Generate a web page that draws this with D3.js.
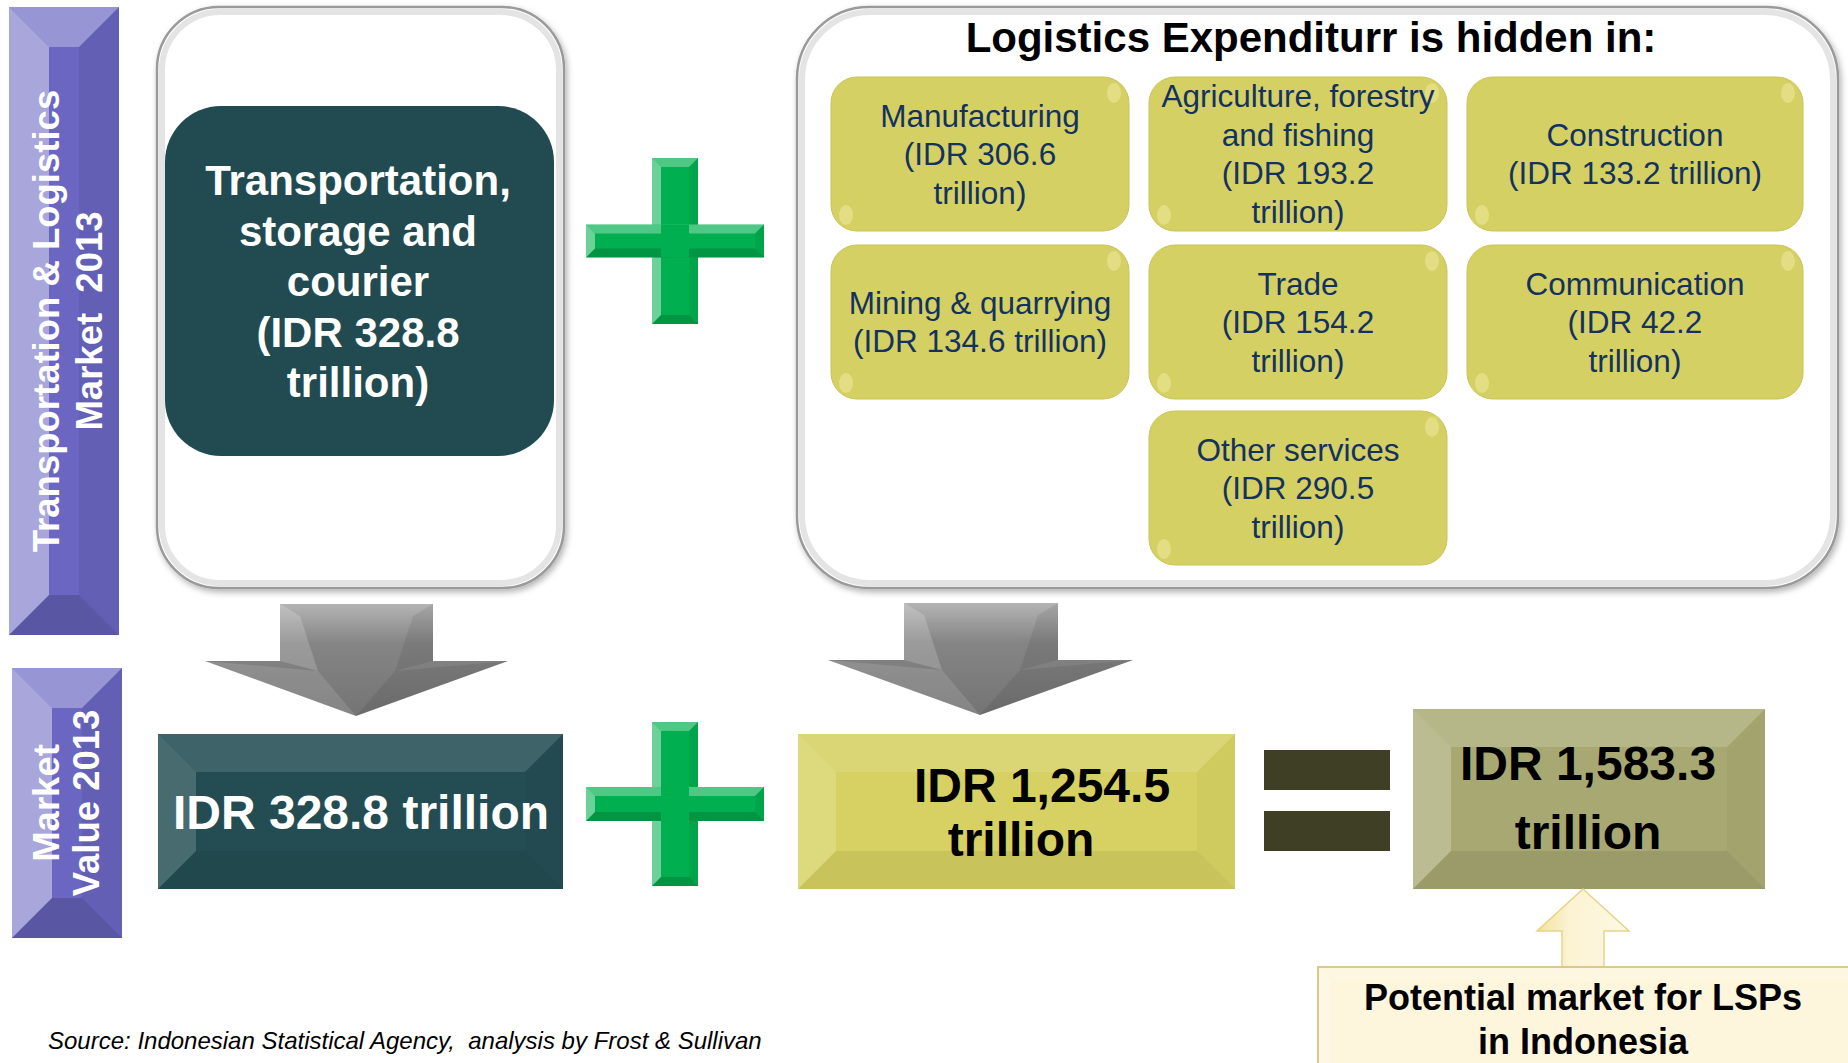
<!DOCTYPE html>
<meta charset="utf-8">
<style type="text/css">
  body { margin: 0; background: #fff; }
  svg { display: block; font-family: "Liberation Sans", Arial, sans-serif; }
</style>
<body>
<script src="https://cdn.jsdelivr.net/npm/d3@7"></script>
<script>
  // ---- data (IDR trillion, 2013) ----
  var sideLabels = [["Transportation & Logistics", "Market  2013"], ["Market", "Value 2013"]];
  var transportName = ["Transportation,", "storage and", "courier"];
  var transportValue = 328.8;
  var sectorNames = [["Manufacturing"], ["Agriculture, forestry", "and fishing"], ["Construction"],
                     ["Mining & quarrying"], ["Trade"], ["Communication"], ["Other services"]];
  var sectorValues = [306.6, 193.2, 133.2, 134.6, 154.2, 42.2, 290.5];
  var hiddenTitle = "Logistics Expenditurr is hidden in:";
  var calloutText = ["Potential market for LSPs", "in Indonesia"];
  var sourceText = "Source: Indonesian Statistical Agency,  analysis by Frost & Sullivan";

  // ---- layout ----
  var W = 1848, H = 1063;
  var sectorCol = [0, 1, 2, 0, 1, 2, 1];
  var sectorRow = [0, 0, 0, 1, 1, 1, 2];
  var sectorOneLine = [false, false, true, true, false, false, false];
  var colX = [831, 1149, 1467], colW = [298, 298, 336];
  var rowY = [77, 245, 411], boxH = 154;

  var fmt = d3.format(",.1f");
  var hiddenTotal = d3.sum(sectorValues);
  var marketTotal = hiddenTotal + transportValue;

  var svg = d3.select('body').append('svg')
    .attr('width', W).attr('height', H);

  var defs = svg.append('defs');
  var sh = defs.append('filter').attr('id', 'shadow')
    .attr('x', '-5%').attr('y', '-5%').attr('width', '115%').attr('height', '115%');
  sh.append('feDropShadow').attr('dx', 2).attr('dy', 3).attr('stdDeviation', 3)
    .attr('flood-color', '#000').attr('flood-opacity', 0.3);

  function grad(id, stops, vertical) {
    var g = defs.append('linearGradient').attr('id', id)
      .attr('x1', 0).attr('y1', 0).attr('x2', vertical ? 0 : 1).attr('y2', vertical ? 1 : 0);
    stops.forEach(function(s) {
      g.append('stop').attr('offset', s[0]).attr('stop-color', s[1]);
    });
  }
  grad('grayArrow', [[0, '#b4b4b4'], [0.35, '#858585'], [1, '#747474']], true);
  grad('creamArrow', [[0, '#f3e29a'], [0.35, '#fbf3d2'], [1, '#fdf8e4']], false);

  // rectangle with 4 bevelled edges
  function bevelRect(g, x, y, w, h, d, base, k) {
    k = k || 1;
    g.append('rect').attr('x', x).attr('y', y).attr('width', w).attr('height', h).attr('fill', base);
    var faces = [
      [[x, y], [x + w, y], [x + w - d, y + d], [x + d, y + d], '#fff', 0.28 * k],
      [[x, y], [x + d, y + d], [x + d, y + h - d], [x, y + h], '#fff', 0.38 * k],
      [[x + w, y], [x + w, y + h], [x + w - d, y + h - d], [x + w - d, y + d], '#000', 0.06 * k],
      [[x, y + h], [x + d, y + h - d], [x + w - d, y + h - d], [x + w, y + h], '#000', 0.14 * k]
    ];
    g.selectAll(null).data(faces).enter().append('polygon')
      .attr('points', function(f) { return f.slice(0, 4).join(' '); })
      .attr('fill', function(f) { return f[4]; })
      .attr('fill-opacity', function(f) { return f[5]; });
  }

  function plus(g, cx, cy, hw, hh, vw, vh) {
    var green = '#00b050';
    bevelRect(g, cx - vw / 2, cy - vh / 2, vw, vh, 9, green, 1.1);
    bevelRect(g, cx - hw / 2, cy - hh / 2, hw, hh, 9, green, 1.1);
    g.append('rect').attr('x', cx - vw / 2 + 9).attr('y', cy - hh / 2)
      .attr('width', vw - 18).attr('height', hh).attr('fill', green);
  }

  function downArrow(g, sx0, sx1, y0, yw, wx0, wx1, tx, ty) {
    g.append('polygon')
      .attr('points', [[sx0, y0], [sx1, y0], [sx1, yw], [wx1, yw], [tx, ty], [wx0, yw], [sx0, yw]].join(' '))
      .attr('fill', 'url(#grayArrow)');
    g.append('polygon').attr('points', [[sx0, y0], [sx0 + 20, y0 + 12], [sx0 + 38, yw + 10], [sx0, yw]].join(' '))
      .attr('fill', '#fff').attr('fill-opacity', 0.18);
    g.append('polygon').attr('points', [[sx1, y0], [sx1 - 20, y0 + 12], [sx1 - 38, yw + 10], [sx1, yw]].join(' '))
      .attr('fill', '#000').attr('fill-opacity', 0.08);
    g.append('polygon').attr('points', [[wx0, yw], [sx0 + 38, yw + 10], [tx, ty]].join(' '))
      .attr('fill', '#fff').attr('fill-opacity', 0.12);
    g.append('polygon').attr('points', [[wx1, yw], [sx1 - 38, yw + 10], [tx, ty]].join(' '))
      .attr('fill', '#000').attr('fill-opacity', 0.08);
  }

  function lines(g, arr, x, y0, step, size, weight, color) {
    g.append('text').attr('text-anchor', 'middle')
      .attr('font-size', size).attr('font-weight', weight).attr('fill', color)
      .selectAll('tspan').data(arr).enter().append('tspan')
      .attr('x', x).attr('y', function(d, i) { return y0 + i * step; })
      .text(function(d) { return d; });
  }

  // ---- side labels ----
  var side = svg.append('g');
  bevelRect(side, 9, 7, 110, 628, 40, '#6a66c2', 1.1);
  bevelRect(side, 12, 668, 110, 270, 40, '#6a66c2', 1.1);
  [[64, 321, -5, 43], [71, 803, -12, 40]].forEach(function(p, k) {
    side.append('text')
      .attr('transform', 'translate(' + p[0] + ',' + p[1] + ') rotate(-90)')
      .attr('text-anchor', 'middle').attr('font-size', 36.5).attr('font-weight', 'bold').attr('fill', '#fff')
      .attr('xml:space', 'preserve')
      .selectAll('tspan').data(sideLabels[k]).enter().append('tspan')
      .attr('x', 0).attr('y', function(d, i) { return p[2] + i * p[3]; })
      .text(function(d) { return d; });
  });

  // ---- top left: transport box ----
  var tl = svg.append('g');
  tl.append('rect').attr('x', 157).attr('y', 7).attr('width', 407).attr('height', 581).attr('rx', 62)
    .attr('fill', '#fff').attr('stroke', '#9a9a9a').attr('stroke-width', 2.5).attr('filter', 'url(#shadow)');
  tl.append('rect').attr('x', 162).attr('y', 12).attr('width', 397).attr('height', 571).attr('rx', 58)
    .attr('fill', 'none').attr('stroke', '#e4e4e4').attr('stroke-width', 6);
  tl.append('rect').attr('x', 165).attr('y', 106).attr('width', 389).attr('height', 350).attr('rx', 56)
    .attr('fill', '#214b51');
  lines(tl, transportName.concat(['(IDR ' + fmt(transportValue), 'trillion)']), 358, 195, 50.5, 42, 'bold', '#fff');

  // ---- top right: hidden expenditure ----
  var tr = svg.append('g');
  tr.append('rect').attr('x', 797).attr('y', 7).attr('width', 1041).attr('height', 581).attr('rx', 72)
    .attr('fill', '#fff').attr('stroke', '#9a9a9a').attr('stroke-width', 2.5).attr('filter', 'url(#shadow)');
  tr.append('rect').attr('x', 802).attr('y', 12).attr('width', 1031).attr('height', 571).attr('rx', 68)
    .attr('fill', 'none').attr('stroke', '#e4e4e4').attr('stroke-width', 6);
  tr.append('text').attr('x', 1311).attr('y', 52).attr('text-anchor', 'middle')
    .attr('font-size', 42).attr('font-weight', 'bold').attr('fill', '#000').text(hiddenTitle);

  var cells = tr.selectAll('g.sector').data(sectorValues).enter().append('g').attr('class', 'sector');
  cells.append('rect')
    .attr('x', function(d, i) { return colX[sectorCol[i]]; })
    .attr('y', function(d, i) { return rowY[sectorRow[i]]; })
    .attr('width', function(d, i) { return colW[sectorCol[i]]; })
    .attr('height', boxH).attr('rx', 26)
    .attr('fill', '#d5d063').attr('stroke', '#c9c458').attr('stroke-width', 1);
  cells.append('ellipse')
    .attr('cx', function(d, i) { return colX[sectorCol[i]] + colW[sectorCol[i]] - 15; })
    .attr('cy', function(d, i) { return rowY[sectorRow[i]] + 16; })
    .attr('rx', 7).attr('ry', 10).attr('fill', '#ece89a').attr('fill-opacity', 0.6);
  cells.append('ellipse')
    .attr('cx', function(d, i) { return colX[sectorCol[i]] + 15; })
    .attr('cy', function(d, i) { return rowY[sectorRow[i]] + boxH - 16; })
    .attr('rx', 7).attr('ry', 10).attr('fill', '#ece89a').attr('fill-opacity', 0.6);
  cells.each(function(d, i) {
    var val = sectorOneLine[i] ? ['(IDR ' + fmt(d) + ' trillion)'] : ['(IDR ' + fmt(d), 'trillion)'];
    var arr = sectorNames[i].concat(val);
    var cx = colX[sectorCol[i]] + colW[sectorCol[i]] / 2;
    var cy = rowY[sectorRow[i]] + boxH / 2;
    var step = 38.5;
    lines(d3.select(this), arr, cx, cy - (arr.length - 1) / 2 * step + 11, step, 31.5, 'normal', '#13325f');
  });

  // ---- connectors ----
  var conn = svg.append('g');
  plus(conn, 675, 241, 178, 33, 46, 166);
  plus(conn, 675, 804, 178, 34, 46, 164);
  downArrow(conn, 280, 433, 604, 661, 205, 508, 356, 716);
  downArrow(conn, 904, 1058, 603, 660, 828, 1133, 980, 715);
  conn.append('rect').attr('x', 1264).attr('y', 750).attr('width', 126).attr('height', 40).attr('fill', '#3f3f25');
  conn.append('rect').attr('x', 1264).attr('y', 811).attr('width', 126).attr('height', 40).attr('fill', '#3f3f25');

  // ---- bottom row values ----
  var bot = svg.append('g');
  bevelRect(bot, 158, 734, 405, 155, 38, '#234d53', 0.45);
  bot.append('text').attr('x', 361).attr('y', 829).attr('text-anchor', 'middle')
    .attr('font-size', 48).attr('font-weight', 'bold').attr('fill', '#fff')
    .text('IDR ' + fmt(transportValue) + ' trillion');

  bevelRect(bot, 798, 734, 437, 155, 38, '#d6d162', 0.45);
  bot.append('text').attr('x', 1042).attr('y', 802).attr('text-anchor', 'middle')
    .attr('font-size', 48).attr('font-weight', 'bold').attr('fill', '#000').text('IDR ' + fmt(hiddenTotal));
  bot.append('text').attr('x', 1021).attr('y', 856).attr('text-anchor', 'middle')
    .attr('font-size', 48).attr('font-weight', 'bold').attr('fill', '#000').text('trillion');

  bevelRect(bot, 1413, 709, 352, 180, 38, '#a8a972', 0.6);
  lines(bot, ['IDR ' + fmt(marketTotal), 'trillion'], 1588, 780, 69, 48, 'bold', '#000');

  // ---- callout ----
  var call = svg.append('g');
  call.append('polygon')
    .attr('points', [[1583, 889], [1629, 931], [1604, 931], [1604, 968], [1562, 968], [1562, 931], [1537, 931]].join(' '))
    .attr('fill', 'url(#creamArrow)').attr('stroke', '#e6d48a').attr('stroke-width', 1.5);
  bevelRect(call, 1318, 967, 560, 110, 12, '#fdf6dc', 0.6);
  call.append('rect').attr('x', 1318).attr('y', 967).attr('width', 560).attr('height', 110)
    .attr('fill', 'none').attr('stroke', '#d9c98c').attr('stroke-width', 2);
  lines(call, calloutText, 1583, 1010, 44, 36, 'bold', '#000');

  // ---- source ----
  svg.append('text').attr('x', 48).attr('y', 1049)
    .attr('font-size', 24).attr('font-style', 'italic').attr('fill', '#000')
    .attr('xml:space', 'preserve').text(sourceText);
</script>
</body>
